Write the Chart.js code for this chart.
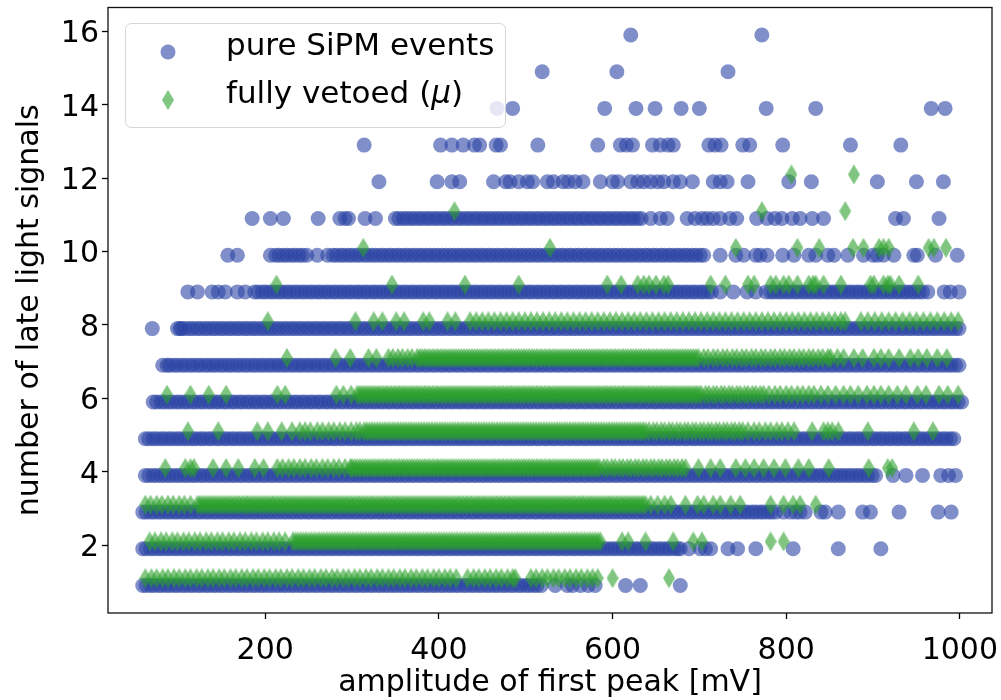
<!DOCTYPE html>
<html>
<head>
<meta charset="utf-8">
<title>late light signals vs amplitude of first peak</title>
<script src="https://cdn.jsdelivr.net/npm/chart.js@4.4.0/dist/chart.umd.min.js"></script>
<style>
  html, body { margin: 0; padding: 0; background: #fff; }
  #grafica { display: block; }
</style>
</head>
<body>
<canvas id="grafica" width="1001" height="700"></canvas>
<script>
// axis ticks
const xTicks = [200, 400, 600, 800, 1000];
const yTicks = [2, 4, 6, 8, 10, 12, 14, 16];

const seriesNames = ['pure SiPM events', 'fully vetoed ('];

// pure SiPM events: x values (amplitude, mV) for each row of late light signals
const sipmLevels = [0.9, 1.9, 2.9, 3.9, 4.9, 5.9, 6.9, 7.9, 8.9, 9.9, 10.9, 11.9, 12.9, 13.9, 14.9, 15.9];

const sipm09 = [59,63,68,72,77,81,86,90,95,99,104,108,113,117,122,126,131,135,140,144,149,153,158,162,167,171,176,180,185,189,194,198,203,207,212,216,221,225,230,234,239,243,248,252,257,261,266,270,275,279,284,288,293,297,302,306,311,315,320,324,329,333,338,342,347,351,356,360,365,369,374,378,383,387,392,396,401,405,410,414,419,423,428,432,437,441,446,450,455,459,464,468,473,477,482,486,491,495,500,504,509,513,518,
    534,548,554,563,572,580,615,632,678];
const sipm19 = [59,63,68,72,77,81,86,90,95,99,104,108,113,117,122,126,131,135,140,144,149,153,158,162,167,171,176,180,185,189,194,198,203,207,212,216,221,225,230,234,239,243,248,252,257,261,266,270,275,279,284,288,293,297,302,306,311,315,320,324,329,333,338,342,347,351,356,360,365,369,374,378,383,387,392,396,401,405,410,414,419,423,428,432,437,441,446,450,455,459,464,468,473,477,482,486,491,495,500,504,509,513,518,
    522,527,531,536,540,545,549,554,558,563,567,572,576,581,585,590,594,599,603,608,612,617,621,626,630,635,639,644,648,653,657,662,666,671,675,678,
    688,701,707,713,733,744,765,808,860,909];
const sipm29 = [59,63,68,72,77,81,86,90,95,99,104,108,113,117,122,126,131,135,140,144,149,153,158,162,167,171,176,180,185,189,194,198,203,207,212,216,221,225,230,234,239,243,248,252,257,261,266,270,275,279,284,288,293,297,302,306,311,315,320,324,329,333,338,342,347,351,356,360,365,369,374,378,383,387,392,396,401,405,410,414,419,423,428,432,437,441,446,450,455,459,464,468,473,477,482,486,491,495,500,504,509,513,518,
    522,527,531,536,540,545,549,554,558,563,567,572,576,581,585,590,594,599,603,608,612,617,621,626,630,635,639,644,648,653,657,662,666,671,675,
    680,684,689,693,698,702,707,711,716,720,725,729,734,738,743,747,752,756,761,765,770,774,779,783,788,
    797,805,811,816,822,840,845,860,888,897,930,975,990];
const sipm39 = [62,66,71,75,80,84,89,93,98,102,107,111,116,120,125,129,134,138,143,147,152,156,161,165,170,174,179,183,188,192,197,201,206,210,215,219,224,228,233,237,242,246,251,255,260,264,269,273,278,282,287,291,296,
    300,305,309,314,318,323,327,332,336,341,345,350,354,359,363,368,372,377,381,386,390,395,399,404,408,413,417,422,426,431,435,440,444,449,453,458,462,467,471,476,480,485,489,494,498,503,507,512,516,521,525,530,534,539,543,548,552,557,561,566,570,575,579,584,588,593,597,602,606,611,615,620,624,629,633,638,642,647,651,656,660,665,669,674,678,683,687,692,696,701,705,
    710,714,719,723,728,732,737,741,746,750,755,759,764,768,773,777,782,786,791,795,800,804,809,813,818,822,827,831,836,840,845,849,854,858,863,867,872,876,881,885,890,894,899,903,
    923,938,957,978,987,995];
const sipm49 = [62,66,71,75,80,84,89,93,98,102,107,111,116,120,125,129,134,138,143,147,152,156,161,165,170,174,179,183,188,192,197,201,206,210,215,219,224,228,233,237,242,246,251,255,260,264,269,273,278,282,287,291,296,
    300,305,309,314,318,323,327,332,336,341,345,350,354,359,363,368,372,377,381,386,390,395,399,404,408,413,417,422,426,431,435,440,444,449,453,458,462,467,471,476,480,485,489,494,498,503,507,512,516,521,525,530,534,539,543,548,552,557,561,566,570,575,579,584,588,593,597,602,606,611,615,620,624,629,633,638,642,647,651,656,660,665,669,674,678,683,687,692,696,701,705,
    710,714,719,723,728,732,737,741,746,750,755,759,764,768,773,777,782,786,791,795,800,804,809,813,818,822,827,831,836,840,845,849,854,858,863,867,872,876,881,885,890,894,899,903,
    908,912,917,921,926,930,935,939,944,948,953,957,962,966,971,975,980,984,989,993];
const sipm59 = [71,75,80,84,89,93,98,102,107,111,116,120,125,129,134,138,143,147,152,156,161,165,170,174,179,183,188,192,197,201,206,210,215,219,224,228,233,237,242,246,251,255,260,264,269,273,278,282,287,291,296,
    300,305,309,314,318,323,327,332,336,341,345,350,354,359,363,368,372,377,381,386,390,395,399,404,408,413,417,422,426,431,435,440,444,449,453,458,462,467,471,476,480,485,489,494,498,503,507,512,516,521,525,530,534,539,543,548,552,557,561,566,570,575,579,584,588,593,597,602,606,611,615,620,624,629,633,638,642,647,651,656,660,665,669,674,678,683,687,692,696,701,705,
    710,714,719,723,728,732,737,741,746,750,755,759,764,768,773,777,782,786,791,795,800,804,809,813,818,822,827,831,836,840,845,849,854,858,863,867,872,876,881,885,890,894,899,903,
    908,912,917,921,926,930,935,939,944,948,953,957,962,966,971,975,980,984,989,993,998,1002];
const sipm69 = [82,87,90,95,99,104,108,113,117,122,126,131,135,140,144,149,153,158,162,167,171,176,180,185,189,194,198,203,207,212,216,221,225,230,234,239,243,248,252,257,261,266,270,275,279,284,288,293,297,302,306,311,315,320,324,329,333,338,342,347,351,356,360,365,369,374,378,383,387,392,396,401,405,410,414,419,423,428,432,437,441,446,450,455,459,464,468,473,477,482,486,491,495,500,504,509,513,518,
    522,527,531,536,540,545,549,554,558,563,567,572,576,581,585,590,594,599,603,608,612,617,621,626,630,635,639,644,648,653,657,662,666,671,675,
    680,684,689,693,698,702,707,711,716,720,725,729,734,738,743,747,752,756,761,765,770,774,779,783,788,
    792,797,801,806,810,815,819,824,828,833,837,842,846,851,855,860,864,869,873,878,882,887,891,896,900,905,909,914,918,923,927,932,936,941,945,950,954,959,963,968,972,977,981,986,990,995,999];
const sipm79 = [70,99,102,104,108,113,117,122,126,131,135,140,144,149,153,158,162,167,171,176,180,185,189,194,198,203,207,212,216,221,225,230,234,239,243,248,252,257,261,266,270,275,279,284,288,293,297,302,306,311,315,320,324,329,333,338,342,347,351,356,360,365,369,374,378,383,387,392,396,401,405,410,414,419,423,428,432,437,441,446,450,455,459,464,468,473,477,482,486,491,495,500,504,509,513,518,
    522,527,531,536,540,545,549,554,558,563,567,572,576,581,585,590,594,599,603,608,612,617,621,626,630,635,639,644,648,653,657,662,666,671,675,
    680,684,689,693,698,702,707,711,716,720,725,729,734,738,743,747,752,756,761,765,770,774,779,783,788,
    792,797,801,806,810,815,819,824,828,833,837,842,846,851,855,860,864,869,873,878,882,887,891,896,900,905,909,914,918,923,927,932,936,941,945,950,954,959,963,968,972,977,981,986,990,995,999];
const sipm89 = [111,122,139,146,154,168,177,188,192,197,201,206,210,215,219,224,228,233,237,242,246,251,255,260,264,269,273,278,282,287,291,296,
    300,305,309,314,318,323,327,332,336,341,345,350,354,359,363,368,372,377,381,386,390,395,399,404,408,413,417,422,426,431,435,440,444,449,453,458,462,467,471,476,480,485,489,494,498,503,507,512,516,521,525,530,534,539,543,548,552,557,561,566,570,575,579,584,588,593,597,602,606,611,615,620,624,629,633,638,642,647,651,656,660,665,669,674,678,683,687,692,696,701,705,710,714,
    724,739,755,765,
    777,782,786,791,795,800,804,809,813,818,822,827,831,836,840,845,849,854,858,863,867,872,876,881,885,890,894,899,903,908,912,917,921,926,930,935,939,944,948,953,957,
    963,982,989,999];
const sipm99 = [157,168,206,212,216,221,225,230,234,239,243,248,260,272,278,282,287,291,296,
    300,305,309,314,318,323,327,332,336,341,345,350,354,359,363,368,372,377,381,386,390,395,399,404,408,413,417,422,426,431,435,440,444,449,453,458,462,467,471,476,480,485,489,494,498,503,507,512,516,521,525,530,534,539,543,548,552,557,561,566,570,575,579,584,588,593,597,602,606,611,615,620,624,629,633,638,642,647,651,656,660,665,669,674,678,683,687,692,696,701,705,
    724,742,751,765,770,778,796,809,826,834,848,855,871,889,900,905,912,924,947,951,972,997];
const sipm109 = [185,206,221,261,286,292,296,315,327,
    350,354,359,363,368,372,377,381,386,390,395,399,404,408,413,417,422,426,431,435,440,444,449,453,458,462,467,471,476,480,485,489,494,498,503,507,512,516,521,525,530,534,539,543,548,552,557,561,566,570,575,579,584,588,593,597,602,606,611,615,620,624,629,633,
    644,655,663,686,695,703,709,716,724,735,743,766,778,787,795,807,816,830,843,926,935,976];
const sipm119 = [331, 398, 415, 424, 463, 477, 482, 492, 502, 508, 525, 532, 543, 549, 557, 566, 586, 600, 606, 621, 629, 636, 644, 652, 659, 670, 678, 692, 716, 724, 732, 756, 803, 829, 905, 950, 981];
const sipm129 = [314, 402, 415, 428, 441, 447, 466, 471, 514, 583, 609, 616, 623, 646, 655, 664, 670, 711, 718, 725, 750, 758, 796, 874, 932];
const sipm139 = [467, 485, 591, 627, 649, 679, 700, 777, 834, 967, 983];
const sipm149 = [519, 605, 733];
const sipm159 = [621, 772];

// fully vetoed (mu) events
const vetoLevels = [1.1, 2.1, 3.1, 4.1, 5.1, 6.1, 7.1, 8.1, 9.1, 10.1, 11.1, 12.1];

const veto11 = [62,69,75,82,88,95,101,108,114,121,127,134,140,147,153,160,166,173,179,186,192,199,205,212,218,225,231,238,244,251,257,264,270,277,283,290,296,303,309,316,322,329,335,342,348,355,361,368,374,381,387,394,400,407,413,420,
    433,440,446,453,459,466,472,479,485,488,506,512,519,525,532,538,545,551,558,564,571,577,583,600,665];
const veto21 = [67,73,80,86,93,99,106,112,119,125,132,138,145,151,158,164,171,177,184,190,197,203,210,216,223,
    232,235,238,241,244,247,250,253,256,259,262,265,268,271,274,277,280,283,286,289,292,295,298,301,304,307,310,313,316,319,322,325,328,331,334,337,340,343,346,349,352,355,358,361,364,367,370,373,376,379,382,385,388,391,394,397,400,403,406,409,412,415,418,421,424,427,430,433,436,439,442,445,448,451,454,457,460,463,466,469,472,475,478,481,484,487,490,493,496,499,502,505,508,511,514,517,520,523,526,529,532,535,538,541,544,547,550,553,556,559,562,565,568,571,574,577,580,583,586,
    611,618,638,670,693,703,782,797];
const veto31 = [62,68,75,81,88,94,101,107,114,
    122,125,128,131,134,137,140,143,146,149,152,155,158,161,164,167,170,173,176,179,182,185,188,191,194,197,200,203,206,209,212,215,218,221,224,227,230,233,236,239,242,245,248,251,254,257,260,263,266,269,272,275,278,281,284,287,290,293,296,299,302,305,308,311,314,317,320,323,326,329,332,335,338,341,344,347,350,353,356,359,362,365,368,371,374,377,380,383,386,389,392,395,398,401,404,407,410,413,416,419,422,425,428,431,434,437,440,443,446,449,452,455,458,461,464,467,470,473,476,479,482,485,488,491,494,497,500,503,506,509,512,515,518,521,524,527,530,533,536,539,542,545,548,551,554,557,560,563,566,569,572,575,578,581,584,587,590,593,596,599,602,605,608,611,614,617,620,623,626,629,632,635,638,
    644,652,660,667,684,698,705,716,724,736,747,782,797,808,816,834];
const veto41 = [85,108,114,118,140,155,169,188,198,214,220,227,233,240,246,253,259,266,272,279,285,292,298,
    300,303,306,309,312,315,318,321,324,327,330,333,336,339,342,345,348,351,354,357,360,363,366,369,372,375,378,381,384,387,390,393,396,399,402,405,408,411,414,417,420,423,426,429,432,435,438,441,444,447,450,453,456,459,462,465,468,471,474,477,480,483,486,489,492,495,498,501,504,507,510,513,516,519,522,525,528,531,534,537,540,543,546,549,552,555,558,561,564,567,570,573,576,579,582,585,
    590,594,599,603,608,612,617,621,626,630,635,639,644,648,653,657,662,666,671,675,680,684,
    699,713,724,742,753,763,774,786,799,814,826,849,895,917,922];
const veto51 = [111,146,191,203,219,231,240,246,252,260,266,273,279,286,292,299,305,309,314,
    317,320,323,326,329,332,335,338,341,344,347,350,353,356,359,362,365,368,371,374,377,380,383,386,389,392,395,398,401,404,407,410,413,416,419,422,425,428,431,434,437,440,443,446,449,452,455,458,461,464,467,470,473,476,479,482,485,488,491,494,497,500,503,506,509,512,515,518,521,524,527,530,533,536,539,542,545,548,551,554,557,560,563,566,569,572,575,578,581,584,587,590,593,596,599,602,605,608,611,614,617,620,623,626,629,632,635,638,
    642,647,651,656,660,665,669,674,678,683,687,692,696,701,705,710,714,719,723,728,732,737,741,746,750,
    756,763,769,776,782,789,795,802,809,830,843,848,853,860,894,947,969];
const veto61 = [87,114,135,155,214,223,282,290,299,
    306,309,312,315,318,321,324,327,330,333,336,339,342,345,348,351,354,357,360,363,366,369,372,375,378,381,384,387,390,393,396,399,402,405,408,411,414,417,420,423,426,429,432,435,438,441,444,447,450,453,456,459,462,465,468,471,474,477,480,483,486,489,492,495,498,501,504,507,510,513,516,519,522,525,528,531,534,537,540,543,546,549,552,555,558,561,564,567,570,573,576,579,582,585,588,591,594,597,600,603,606,609,612,615,618,621,624,627,630,633,636,639,642,645,648,651,654,657,660,663,666,669,672,675,678,681,684,687,690,693,696,699,
    702,707,711,716,720,725,729,734,738,743,747,752,756,761,765,770,774,
    780,787,793,800,806,813,819,826,832,840,848,857,866,874,883,893,901,909,918,928,938,951,961,976,986,998];
const veto71 = [225,281,298,319,328,342,347,353,358,364,369,
    375,378,381,384,387,390,393,396,399,402,405,408,411,414,417,420,423,426,429,432,435,438,441,444,447,450,453,456,459,462,465,468,471,474,477,480,483,486,489,492,495,498,501,504,507,510,513,516,519,522,525,528,531,534,537,540,543,546,549,552,555,558,561,564,567,570,573,576,579,582,585,588,591,594,597,600,603,606,609,612,615,618,621,624,627,630,633,636,639,642,645,648,651,654,657,660,663,666,669,672,675,678,681,684,687,690,693,696,699,
    705,710,716,721,727,732,738,743,749,754,760,765,771,776,782,787,793,798,804,809,815,820,826,831,837,842,848,851,
    859,866,878,888,901,909,918,930,943,952,962,974,985];
const veto81 = [203,304,325,335,351,360,382,389,410,419,
    436,443,450,457,464,471,478,485,492,499,506,513,520,527,534,541,548,555,562,569,576,583,590,597,604,611,618,625,632,639,646,653,660,667,674,681,688,695,702,709,716,723,730,737,744,751,758,765,772,779,786,793,800,807,814,821,828,835,842,849,856,863,868,
    886,894,902,910,918,926,934,942,950,958,966,974,982,990,998];
const veto91 = [213, 346, 430, 492, 594, 610, 629, 636, 642, 650, 659, 664, 713, 730, 756, 763, 782, 788, 797, 803, 813, 826, 831, 834, 843, 863, 897, 901, 912, 917, 920, 930, 952];
const veto101 = [313, 528, 742, 813, 838, 877, 889, 907, 912, 918, 964, 970, 984];
const veto111 = [418, 772, 868];
const veto121 = [806, 878];

const sipmRows = [sipm09, sipm19, sipm29, sipm39, sipm49, sipm59, sipm69, sipm79, sipm89, sipm99, sipm109, sipm119, sipm129, sipm139, sipm149, sipm159];
const vetoRows = [veto11, veto21, veto31, veto41, veto51, veto61, veto71, veto81, veto91, veto101, veto111, veto121];

const colorAzul = 'rgba(43, 68, 165, 0.6)';
const colorVerde = 'rgba(44, 160, 44, 0.6)';
const fuente = '"DejaVu Sans", sans-serif';

function filasAPuntos(levels, rows) {
    const puntos = [];
    levels.forEach((y, i) => {
        rows[i].forEach(x => puntos.push({ x: x, y: y }));
    });
    return puntos;
}

// thin diamond like matplotlib's 'd' marker
function crearDiamante(w, h, color) {
    const c = document.createElement('canvas');
    c.width = w;
    c.height = h;
    const g = c.getContext('2d');
    g.fillStyle = color;
    g.beginPath();
    g.moveTo(w / 2, 0);
    g.lineTo(w, h / 2);
    g.lineTo(w / 2, h);
    g.lineTo(0, h / 2);
    g.closePath();
    g.fill();
    return c;
}

const diamante = crearDiamante(12, 20, colorVerde);

// full box around the plot area
const marco = {
    id: 'marco',
    afterDatasetsDraw(chart) {
        const a = chart.chartArea;
        const ctx = chart.ctx;
        ctx.save();
        ctx.strokeStyle = '#111';
        ctx.lineWidth = 1.3;
        ctx.strokeRect(a.left, a.top, a.right - a.left, a.bottom - a.top);
        ctx.restore();
    }
};

// legend inside the axes, upper left
const leyenda = {
    id: 'leyenda',
    afterDraw(chart) {
        const ctx = chart.ctx;
        ctx.save();
        ctx.beginPath();
        ctx.roundRect(125.5, 23.5, 380, 104, 6);
        ctx.fillStyle = 'rgba(255, 255, 255, 0.8)';
        ctx.fill();
        ctx.strokeStyle = 'rgba(204, 204, 204, 0.8)';
        ctx.lineWidth = 1;
        ctx.stroke();

        ctx.fillStyle = colorAzul;
        ctx.beginPath();
        ctx.arc(168, 52, 7.5, 0, Math.PI * 2);
        ctx.fill();
        ctx.drawImage(diamante, 162, 90);

        ctx.fillStyle = '#000';
        ctx.textBaseline = 'alphabetic';
        ctx.font = '31px ' + fuente;
        ctx.fillText(seriesNames[0], 226, 55);
        ctx.fillText(seriesNames[1], 226, 103);
        let x = 226 + ctx.measureText(seriesNames[1]).width;
        ctx.font = 'italic 31px ' + fuente;
        ctx.fillText('\u03bc', x, 103);
        x += ctx.measureText('\u03bc').width;
        ctx.font = '31px ' + fuente;
        ctx.fillText(')', x, 103);
        ctx.restore();
    }
};

Chart.defaults.font.family = fuente;
Chart.defaults.font.size = 30;
Chart.defaults.color = '#000';

const ctx = document.getElementById('grafica');
const chartInstance = new Chart(ctx, {
    type: 'scatter',
    data: {
        datasets: [{
            label: seriesNames[0],
            data: filasAPuntos(sipmLevels, sipmRows),
            pointStyle: 'circle',
            pointRadius: 7.5,
            pointBorderWidth: 0,
            backgroundColor: colorAzul,
            borderColor: 'rgba(0,0,0,0)',
            order: 1
        }, {
            label: 'fully vetoed (\u03bc)',
            data: filasAPuntos(vetoLevels, vetoRows),
            pointStyle: diamante,
            pointRadius: 6,
            pointBorderWidth: 0,
            backgroundColor: colorVerde,
            order: 0
        }]
    },
    options: {
        responsive: false,
        animation: false,
        devicePixelRatio: 1,
        events: [],
        layout: { padding: { top: 6, right: 9, left: 0, bottom: 0 } },
        plugins: {
            legend: { display: false },
            tooltip: { enabled: false }
        },
        scales: {
            x: {
                type: 'linear',
                min: 19,
                max: 1037,
                afterBuildTicks: s => { s.ticks = xTicks.map(v => ({ value: v })); },
                afterFit: s => { s.height = 87; s.paddingLeft = 0; s.paddingRight = 0; },
                border: { display: false },
                grid: { drawOnChartArea: false, drawTicks: true, tickLength: 6, tickColor: '#000', tickWidth: 1.3 },
                ticks: { padding: 14, autoSkip: false, maxRotation: 0, color: '#000', callback: v => String(v) },
                title: { display: true, text: 'amplitude of first peak [mV]', color: '#000', font: { lineHeight: 1.1 }, padding: { top: 0, bottom: 0 } }
            },
            y: {
                type: 'linear',
                min: 0.15,
                max: 16.65,
                afterBuildTicks: s => { s.ticks = yTicks.map(v => ({ value: v })); },
                afterFit: s => { s.width = 108; s.paddingTop = 0; s.paddingBottom = 0; },
                border: { display: false },
                grid: { drawOnChartArea: false, drawTicks: true, tickLength: 6, tickColor: '#000', tickWidth: 1.3 },
                ticks: { padding: 3, autoSkip: false, labelOffset: 3, color: '#000', callback: v => String(v) },
                title: { display: true, text: 'number of late light signals', color: '#000', padding: { top: 12, bottom: 0 } }
            }
        }
    },
    plugins: [marco, leyenda]
});
</script>
</body>
</html>
